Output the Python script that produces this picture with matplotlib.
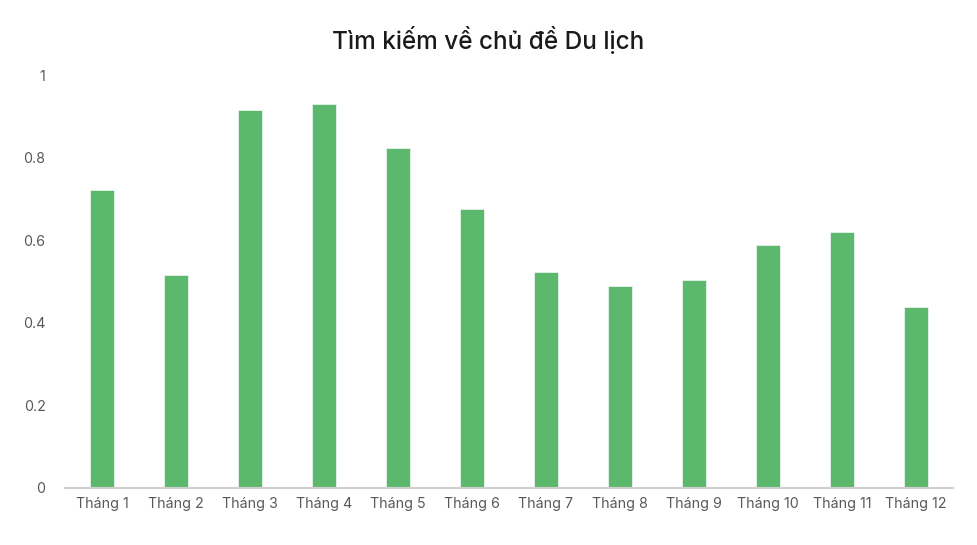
import matplotlib
matplotlib.use("Agg")
import matplotlib.pyplot as plt

categories = ["Tháng 1", "Tháng 2", "Tháng 3", "Tháng 4", "Tháng 5", "Tháng 6",
              "Tháng 7", "Tháng 8", "Tháng 9", "Tháng 10", "Tháng 11", "Tháng 12"]
values = [0.722, 0.515, 0.915, 0.930, 0.823, 0.676, 0.523, 0.488, 0.503, 0.588, 0.619, 0.438]
yticks = [0, 0.2, 0.4, 0.6, 0.8, 1]
ytick_labels = ["0", "0.2", "0.4", "0.6", "0.8", "1"]
title = "Tìm kiếm về chủ đề Du lịch"

plt.rcParams['font.family'] = ['Inter', 'DejaVu Sans']

fig = plt.figure(figsize=(9.77, 5.45), dpi=100)
ax = fig.add_axes([65/977, 57.3/545, (953-65)/977, (487.7-75)/545])

x = list(range(len(categories)))
ax.bar(x, values, width=0.33, color="#5cb86c", edgecolor="#e8f3ea", linewidth=0.6, zorder=2)

ax.set_xlim(-0.5, len(categories) - 0.5)
ax.set_ylim(0, 1)
ax.set_yticks(yticks)
ax.set_yticklabels(ytick_labels)
ax.set_xticks(x)
ax.set_xticklabels(categories)

for s in ["top", "right", "left"]:
    ax.spines[s].set_visible(False)
ax.spines["bottom"].set_color("#d0d0d0")
ax.spines["bottom"].set_linewidth(1.5)

ax.tick_params(axis="both", length=0, labelsize=10.3, colors="#595959")
ax.tick_params(axis="y", pad=14)
ax.tick_params(axis="x", pad=7)

fig.text(0.5, 1 - 40/545, title, ha="center", va="center", fontsize=17.5,
         fontweight="medium", color="#1a1a1a")

fig.savefig("out.png", dpi=100)
